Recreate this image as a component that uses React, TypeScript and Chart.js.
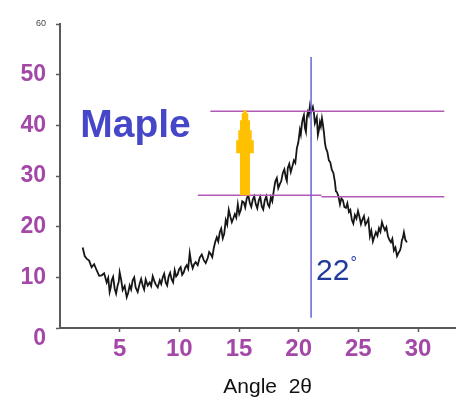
import React, { useEffect, useRef } from "react";
import { Chart, registerables } from "chart.js";

Chart.register(...registerables);

// Diffraction scan of maple: 2θ (degrees) against intensity
const angles = [
  1.9, 2.07, 2.23, 2.44, 2.65, 2.86, 3.07, 3.28, 3.49, 3.70,
  3.91, 4.04, 4.16, 4.25, 4.33, 4.45, 4.58, 4.70, 4.83, 4.92,
  5.0, 5.12, 5.25, 5.42, 5.59, 5.72, 5.84, 5.96, 6.09, 6.22,
  6.34, 6.51, 6.68, 6.80, 6.93, 7.05, 7.18, 7.35, 7.52, 7.64,
  7.77, 7.90, 8.02, 8.19, 8.36, 8.48, 8.61, 8.73, 8.86, 8.98,
  9.11, 9.23, 9.36, 9.48, 9.61, 9.73, 9.86, 9.98, 10.11, 10.24,
  10.37, 10.49, 10.62, 10.74, 10.87, 10.99, 11.12, 11.24, 11.37, 11.54,
  11.71, 11.88, 12.05, 12.21, 12.38, 12.50, 12.63, 12.76, 12.89, 13.01,
  13.14, 13.26, 13.39, 13.51, 13.64, 13.76, 13.89, 14.01, 14.14, 14.27,
  14.40, 14.52, 14.65, 14.77, 14.90, 15.02, 15.15, 15.27, 15.40, 15.52,
  15.65, 15.78, 15.91, 16.03, 16.16, 16.28, 16.41, 16.53, 16.66, 16.78,
  16.91, 17.03, 17.16, 17.29, 17.42, 17.54, 17.67, 17.79, 17.92, 18.04,
  18.17, 18.29, 18.42, 18.54, 18.67, 18.80, 18.93, 19.01, 19.09, 19.21,
  19.34, 19.47, 19.60, 19.72, 19.85, 19.97, 20.10, 20.18, 20.27, 20.35,
  20.44, 20.52, 20.61, 20.69, 20.77, 20.85, 20.94, 21.02, 21.11, 21.19,
  21.28, 21.36, 21.44, 21.52, 21.61, 21.69, 21.78, 21.86, 21.95, 22.03,
  22.12, 22.20, 22.28, 22.40, 22.53, 22.65, 22.78, 22.91, 23.04, 23.12,
  23.21, 23.33, 23.46, 23.58, 23.71, 23.83, 23.96, 24.08, 24.21, 24.33,
  24.46, 24.58, 24.71, 24.84, 24.97, 25.09, 25.22, 25.34, 25.47, 25.59,
  25.72, 25.84, 25.97, 26.09, 26.22, 26.34, 26.47, 26.60, 26.73, 26.85,
  26.98, 27.10, 27.23, 27.35, 27.48, 27.60, 27.73, 27.85, 27.98, 28.11,
  28.24, 28.36, 28.49, 28.57, 28.65, 28.73, 28.82, 28.94, 29.07,
];
const intensity = [
  15.9, 14.2, 13.7, 13.3, 12.0, 12.6, 11.4, 10.3, 10.4, 10.8,
  9.0, 9.9, 7.1, 8.0, 9.4, 10.1, 7.8, 6.8, 8.4, 9.1,
  11.0, 9.6, 7.5, 8.3, 6.1, 7.0, 8.4, 7.6, 9.4, 10.0,
  8.0, 7.1, 8.8, 9.7, 8.4, 7.6, 9.6, 8.4, 9.0, 8.3,
  10.2, 9.3, 8.6, 8.0, 9.4, 8.7, 10.0, 10.7, 9.0, 8.4,
  10.2, 10.9, 9.6, 9.0, 11.4, 10.2, 10.6, 11.6, 12.0, 10.5,
  11.0, 11.9, 12.4, 11.7, 14.8, 12.9, 11.8, 12.6, 13.0, 12.4,
  13.9, 14.5, 13.4, 12.8, 13.8, 15.0, 14.6, 14.0, 15.8, 17.0,
  17.9, 17.1, 18.9, 19.6, 17.7, 18.6, 21.3, 20.4, 23.3, 22.0,
  20.9, 21.6, 22.5, 21.8, 24.4, 22.5, 23.3, 25.0, 24.8, 23.8,
  25.6, 26.2, 24.6, 23.9, 25.4, 26.0, 24.4, 23.6, 25.2, 25.9,
  24.0, 23.4, 25.2, 26.0, 24.4, 23.9, 25.8, 25.0, 27.2, 28.9,
  29.6, 27.6, 28.4, 29.0, 30.6, 31.3, 29.6, 29.0, 31.6, 32.4,
  30.8, 31.9, 33.1, 32.6, 35.5, 36.6, 39.1, 38.2, 40.3, 41.3,
  42.0, 39.5, 38.7, 41.6, 42.6, 42.0, 43.8, 42.6, 43.0, 43.6,
  42.4, 40.4, 41.0, 41.6, 38.1, 39.0, 40.6, 39.8, 41.4, 40.2,
  38.5, 36.6, 35.5, 34.8, 33.1, 32.7, 31.2, 30.6, 28.8, 27.0,
  26.8, 26.0, 24.4, 25.6, 25.2, 23.9, 23.7, 24.6, 22.9, 23.3,
  21.3, 20.6, 22.3, 21.6, 23.1, 22.0, 20.5, 21.4, 22.1, 20.4,
  20.9, 21.5, 18.1, 19.2, 17.1, 18.0, 18.9, 18.2, 19.7, 19.0,
  20.9, 20.0, 19.3, 19.9, 18.1, 17.4, 16.9, 17.6, 15.3, 15.9,
  14.2, 14.8, 15.3, 16.0, 17.3, 17.8, 18.9, 17.4, 16.9,
];

const xTickValues = [5, 10, 15, 20, 25, 30];
const yTickValues = [0, 10, 20, 30, 40, 50, 60];
const xMax = 33.1;
const yMax = 60;

// Reference levels: peak maximum and shoulder (baseline) level
const peakLevel = 42.8;
const peakLevelSpan = [12.6, 32.2];
const shoulderLevels = [26.2, 25.9];
const shoulderSpans = [
  [11.55, 21.9],
  [21.9, 32.2],
];
// Vertical marker at the peak position
const peakAngle = 21.04;
const peakMarkerSpan = [2.0, 53.5];
// Arrow showing peak height above the shoulder
const arrowAngle = 15.5;
const arrowFrom = 26.2;
const arrowTo = 43.0;

const sampleName = "Maple";
const peakText = "22";
const axisTitle = "Angle  2θ";

const FONT = "'Liberation Sans', Arial, sans-serif";
const TICK_COLOR = "#A448A8";
const AXIS_COLOR = "#5a5a5a";

const annotations = {
  id: "annotations",
  afterDatasetsDraw(chart: any) {
    const { ctx } = chart;
    const xs = chart.scales.x;
    const ys = chart.scales.y;
    const px = (v: number) => xs.getPixelForValue(v);
    const py = (v: number) => ys.getPixelForValue(v);
    ctx.save();

    // horizontal level lines
    ctx.strokeStyle = "#B458B8";
    ctx.lineWidth = 1.5;
    ctx.beginPath();
    ctx.moveTo(px(peakLevelSpan[0]), py(peakLevel));
    ctx.lineTo(px(peakLevelSpan[1]), py(peakLevel));
    shoulderSpans.forEach((span, i) => {
      ctx.moveTo(px(span[0]), py(shoulderLevels[i]));
      ctx.lineTo(px(span[1]), py(shoulderLevels[i]));
    });
    ctx.stroke();

    // vertical peak marker
    ctx.strokeStyle = "#6464DC";
    ctx.lineWidth = 1.5;
    ctx.beginPath();
    ctx.moveTo(px(peakAngle), py(peakMarkerSpan[1]));
    ctx.lineTo(px(peakAngle), py(peakMarkerSpan[0]));
    ctx.stroke();

    // stepped arrow
    const ax = px(arrowAngle);
    const tip = py(arrowTo);
    const base = py(arrowFrom);
    const steps: [number, number][] = [
      [0, 1.7],
      [3, 1.7],
      [3, 3.3],
      [10, 3.3],
      [10, 5],
      [20, 5],
      [20, 6.7],
      [30, 6.7],
      [30, 8.8],
      [43, 8.8],
    ];
    ctx.fillStyle = "#FFC000";
    ctx.beginPath();
    ctx.moveTo(ax, tip);
    steps.forEach(([dy, hw]) => ctx.lineTo(ax + hw, tip + dy));
    ctx.lineTo(ax + 5, tip + 43);
    ctx.lineTo(ax + 5, base);
    ctx.lineTo(ax - 5, base);
    ctx.lineTo(ax - 5, tip + 43);
    steps
      .slice()
      .reverse()
      .forEach(([dy, hw]) => ctx.lineTo(ax - hw, tip + dy));
    ctx.closePath();
    ctx.fill();

    // texts
    ctx.textBaseline = "alphabetic";
    ctx.textAlign = "left";
    ctx.fillStyle = "#4646C8";
    ctx.font = `bold 39px ${FONT}`;
    ctx.fillText(sampleName, px(1.7), py(37.6));

    ctx.fillStyle = "#203A9A";
    ctx.font = `30px ${FONT}`;
    const tx = px(peakAngle) + 5;
    const ty = py(9.4);
    ctx.fillText(peakText, tx, ty);
    const w = ctx.measureText(peakText).width;
    ctx.font = `16px ${FONT}`;
    ctx.fillText("°", tx + w + 1, ty - 12);

    ctx.fillStyle = "#111";
    ctx.font = `21px ${FONT}`;
    ctx.textAlign = "center";
    ctx.fillText(axisTitle, px(17.4), xs.top + 65);

    ctx.restore();
  },
};

export default function App() {
  const ref = useRef<HTMLCanvasElement | null>(null);

  useEffect(() => {
    if (!ref.current) return;
    const chart = new Chart(ref.current, {
      type: "line",
      data: {
        datasets: [
          {
            data: angles.map((a, i) => ({ x: a, y: intensity[i] })),
            borderColor: "#161616",
            borderWidth: 1.8,
            pointRadius: 0,
            tension: 0,
            fill: false,
          },
        ],
      },
      options: {
        animation: false,
        responsive: false,
        devicePixelRatio: 1,
        layout: { padding: { left: 0, top: 24, right: 7, bottom: 0 } },
        plugins: {
          legend: { display: false },
          tooltip: { enabled: false },
        },
        scales: {
          x: {
            type: "linear",
            min: 0,
            max: xMax,
            afterBuildTicks: (s: any) => {
              s.ticks = xTickValues.map((v) => ({ value: v }));
            },
            afterFit: (s: any) => {
              s.height = 77;
            },
            border: { display: true, color: AXIS_COLOR, width: 2 },
            grid: {
              drawOnChartArea: false,
              drawTicks: true,
              tickLength: 4,
              tickColor: AXIS_COLOR,
              tickWidth: 1.5,
            },
            ticks: {
              padding: 3,
              color: TICK_COLOR,
              font: { family: FONT, size: 24, weight: "bold" },
              maxRotation: 0,
            },
          },
          y: {
            type: "linear",
            min: 0,
            max: yMax,
            afterBuildTicks: (s: any) => {
              s.ticks = yTickValues.map((v) => ({ value: v }));
            },
            afterFit: (s: any) => {
              s.width = 60;
            },
            border: { display: true, color: AXIS_COLOR, width: 2 },
            grid: {
              drawOnChartArea: false,
              drawTicks: true,
              tickLength: 4,
              tickColor: AXIS_COLOR,
              tickWidth: 1.5,
            },
            ticks: {
              padding: 10,
              callback: (v: any) => (v === 0 ? ["", "0"] : String(v)),
              color: (c: any) => (c.tick && c.tick.value === 60 ? "#444" : TICK_COLOR),
              font: (c: any) =>
                c.tick && c.tick.value === 60
                  ? { family: FONT, size: 9, weight: "normal" }
                  : c.tick && c.tick.value === 0
                  ? { family: FONT, size: 23, weight: "bold", lineHeight: 0.9 }
                  : { family: FONT, size: 23, weight: "bold" },
            },
          },
        },
      },
      plugins: [annotations],
    });
    return () => chart.destroy();
  }, []);

  return (
    <canvas
      ref={ref}
      width={462}
      height={405}
      style={{ position: "fixed", left: 0, top: 0, width: 462, height: 405 }}
    />
  );
}
